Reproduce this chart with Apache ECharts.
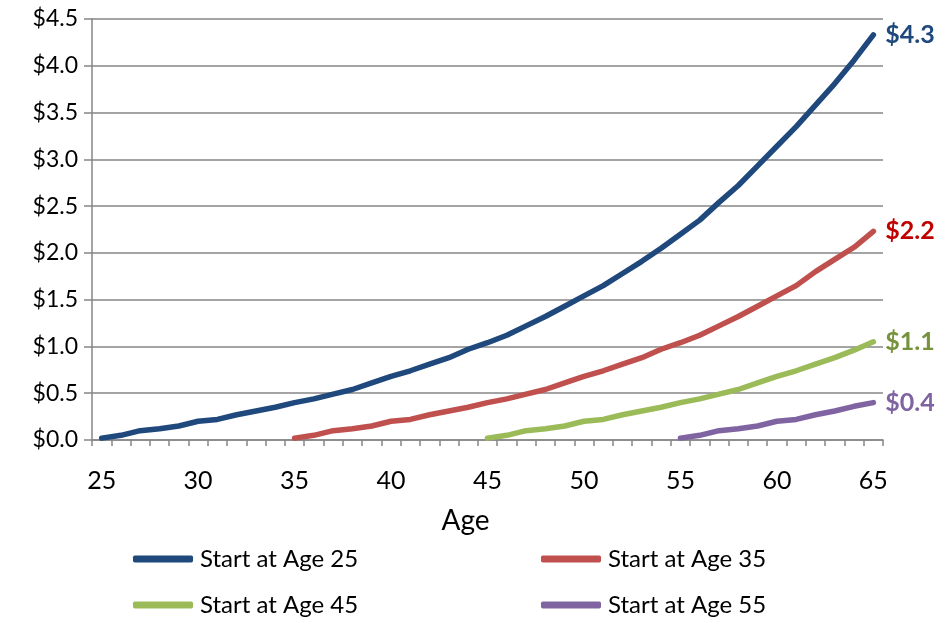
<!DOCTYPE html>
<html>
<head>
<meta charset="utf-8">
<script src="https://cdn.jsdelivr.net/npm/echarts@6/dist/echarts.min.js"></script>
<style>
html,body{margin:0;padding:0;background:#fff;}
#c{width:941px;height:622px;}
</style>
</head>
<body>
<div id="c"></div>
<script>
var ages = ['25','26','27','28','29','30','31','32','33','34','35','36','37','38','39','40','41','42','43','44','45','46','47','48','49','50','51','52','53','54','55','56','57','58','59','60','61','62','63','64','65'];
var seriesNames = ['Start at Age 25','Start at Age 35','Start at Age 45','Start at Age 55'];
var endLabels = ['$4.3','$2.2','$1.1','$0.4'];
var start25 = [0.02,0.05,0.10,0.12,0.15,0.20,0.22,0.27,0.31,0.35,0.40,0.44,0.49,0.54,0.61,0.68,0.74,0.81,0.88,0.97,1.04,1.12,1.22,1.32,1.43,1.54,1.65,1.78,1.91,2.05,2.20,2.35,2.54,2.72,2.93,3.14,3.35,3.58,3.81,4.06,4.33];
var start35 = [null,null,null,null,null,null,null,null,null,null,0.02,0.05,0.10,0.12,0.15,0.20,0.22,0.27,0.31,0.35,0.40,0.44,0.49,0.54,0.61,0.68,0.74,0.81,0.88,0.97,1.04,1.12,1.22,1.32,1.43,1.54,1.65,1.80,1.93,2.06,2.23];
var start45 = [null,null,null,null,null,null,null,null,null,null,null,null,null,null,null,null,null,null,null,null,0.02,0.05,0.10,0.12,0.15,0.20,0.22,0.27,0.31,0.35,0.40,0.44,0.49,0.54,0.61,0.68,0.74,0.81,0.88,0.96,1.05];
var start55 = [null,null,null,null,null,null,null,null,null,null,null,null,null,null,null,null,null,null,null,null,null,null,null,null,null,null,null,null,null,null,0.02,0.05,0.10,0.12,0.15,0.20,0.22,0.27,0.31,0.36,0.40];

var lineColors = ['#1F497D','#C0504D','#9BBB59','#8064A2'];
var labelColors = ['#1F497D','#C00000','#76923C','#8064A2'];
var dataSets = [start25,start35,start45,start55];
var FONT = 'Lato, "Open Sans", sans-serif';

var series = dataSets.map(function(d,i){
  return {
    name: seriesNames[i],
    type: 'line',
    data: d,
    symbol: 'none',
    smooth: false,
    connectNulls: false,
    lineStyle: {width: 5.5, color: lineColors[i], cap: 'round', join: 'round'},
    itemStyle: {color: lineColors[i]},
    endLabel: {
      show: true,
      formatter: endLabels[i],
      color: labelColors[i],
      fontFamily: FONT,
      fontWeight: 'bold',
      fontSize: 25,
      distance: 12
    },
    emphasis: {disabled: true}
  };
});

var legendPos = [[133,547],[541,547],[133,593],[541,593]];
var legends = seriesNames.map(function(n,i){
  return {
    data: [n],
    left: legendPos[i][0],
    top: legendPos[i][1],
    padding: 0,
    icon: 'roundRect',
    itemWidth: 60,
    itemHeight: 7,
    itemGap: 0,
    textStyle: {fontFamily: FONT, fontSize: 24, color: '#000', padding: [0,0,0,2]},
    selectedMode: false
  };
});

var chart = echarts.init(document.getElementById('c'));
chart.setOption({
  animation: false,
  backgroundColor: '#fff',
  grid: {left: 92, right: 58, top: 19, bottom: 182, containLabel: false},
  legend: legends,
  xAxis: {
    type: 'category',
    data: ages,
    boundaryGap: true,
    name: 'Age',
    nameLocation: 'middle',
    nameGap: 67,
    nameTextStyle: {fontFamily: FONT, fontSize: 28, color: '#000', padding: [0,44,0,0]},
    axisLine: {lineStyle: {color: '#868686', width: 1.5}},
    axisTick: {show: true, interval: 0, length: 6, lineStyle: {color: '#868686', width: 1.5}},
    axisLabel: {interval: 4, margin: 28, fontFamily: FONT, fontSize: 25, color: '#000'},
    splitLine: {show: false}
  },
  yAxis: {
    type: 'value',
    min: 0,
    max: 4.5,
    interval: 0.5,
    axisLine: {show: true, lineStyle: {color: '#868686', width: 1.5}},
    axisTick: {show: true, length: 8, lineStyle: {color: '#868686', width: 1.5}},
    axisLabel: {
      margin: 14,
      fontFamily: FONT, fontSize: 23, color: '#000',
      padding: [5,0,0,0],
      formatter: function(v){ return '$' + v.toFixed(1); }
    },
    splitLine: {lineStyle: {color: '#868686', width: 1.5}}
  },
  series: series
});
</script>
</body>
</html>
